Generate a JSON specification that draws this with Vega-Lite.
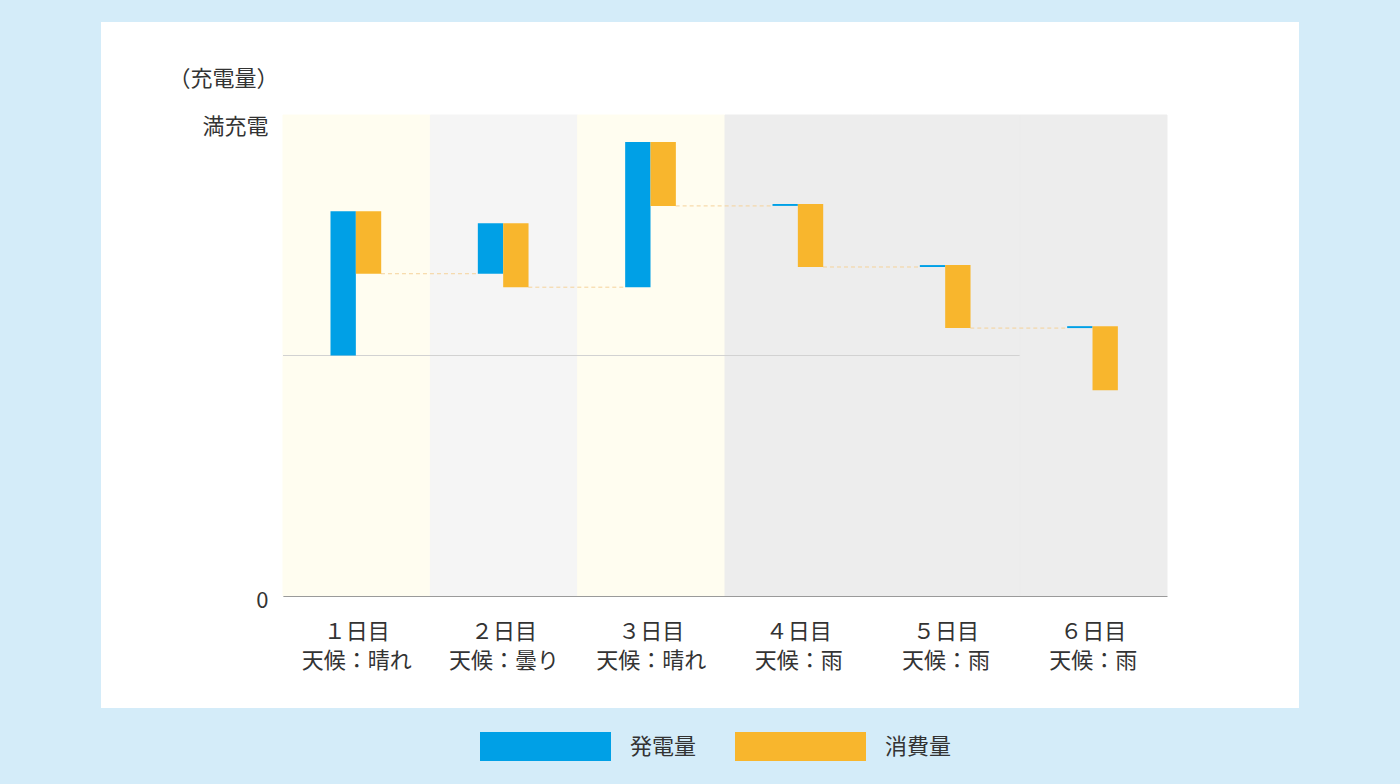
{
  "$schema": "https://vega.github.io/schema/vega-lite/v6.json",
  "width": 1198,
  "height": 686,
  "autosize": {"type": "none"},
  "padding": {"left": 101, "top": 22, "right": 101, "bottom": 76},
  "background": "#d4ecf9",
  "config": {
    "view": {"fill": "#ffffff", "stroke": null},
    "font": "Noto Sans CJK JP"
  },
  "datasets": {
    "days": [
      {"day": "１日目|天候：晴れ", "weather": "晴れ"},
      {"day": "２日目|天候：曇り", "weather": "曇り"},
      {"day": "３日目|天候：晴れ", "weather": "晴れ"},
      {"day": "４日目|天候：雨", "weather": "雨"},
      {"day": "５日目|天候：雨", "weather": "雨"},
      {"day": "６日目|天候：雨", "weather": "雨"}
    ],
    "flows": [
      {"day": "１日目|天候：晴れ", "series": "発電量", "start": 50, "end": 80},
      {"day": "１日目|天候：晴れ", "series": "消費量", "start": 80, "end": 67},
      {"day": "２日目|天候：曇り", "series": "発電量", "start": 67, "end": 77.5},
      {"day": "２日目|天候：曇り", "series": "消費量", "start": 77.5, "end": 64.2},
      {"day": "３日目|天候：晴れ", "series": "発電量", "start": 64.2, "end": 94.4},
      {"day": "３日目|天候：晴れ", "series": "消費量", "start": 94.4, "end": 81.1},
      {"day": "４日目|天候：雨", "series": "発電量", "start": 81.1, "end": 81.5},
      {"day": "４日目|天候：雨", "series": "消費量", "start": 81.5, "end": 68.4},
      {"day": "５日目|天候：雨", "series": "発電量", "start": 68.4, "end": 68.8},
      {"day": "５日目|天候：雨", "series": "消費量", "start": 68.8, "end": 55.7},
      {"day": "６日目|天候：雨", "series": "発電量", "start": 55.7, "end": 56.1},
      {"day": "６日目|天候：雨", "series": "消費量", "start": 56.1, "end": 42.8}
    ],
    "links": [
      {"from": "１日目|天候：晴れ", "to": "２日目|天候：曇り", "level": 67},
      {"from": "２日目|天候：曇り", "to": "３日目|天候：晴れ", "level": 64.2},
      {"from": "３日目|天候：晴れ", "to": "４日目|天候：雨", "level": 81.1},
      {"from": "４日目|天候：雨", "to": "５日目|天候：雨", "level": 68.4},
      {"from": "５日目|天候：雨", "to": "６日目|天候：雨", "level": 55.7}
    ],
    "reference": [
      {"from": "１日目|天候：晴れ", "to": "５日目|天候：雨", "level": 50}
    ]
  },
  "layer": [
    {
      "data": {"name": "days"},
      "mark": {"type": "rect", "strokeWidth": 1},
      "encoding": {
        "x": {
          "field": "day",
          "type": "nominal",
          "sort": null,
          "scale": {
            "domain": ["１日目|天候：晴れ", "２日目|天候：曇り", "３日目|天候：晴れ", "４日目|天候：雨", "５日目|天候：雨", "６日目|天候：雨"],
            "range": [182, 1066],
            "paddingInner": 0,
            "paddingOuter": 0
          },
          "axis": {
            "orient": "bottom",
            "offset": -112,
            "title": null,
            "ticks": false,
            "domainColor": "#9a9a9a",
            "domainWidth": 1,
            "labelAngle": 0,
            "labelFontSize": 22,
            "labelColor": "#333333",
            "labelPadding": 25,
            "labelBaseline": "top",
            "labelLineHeight": 29,
            "labelExpr": "split(datum.value, '|')"
          }
        },
        "y": {
          "datum": 0,
          "type": "quantitative",
          "scale": {"domain": [0, 100], "range": [574, 93], "nice": false, "zero": false},
          "axis": {
            "orient": "left",
            "offset": -182,
            "values": [0, 100],
            "ticks": false,
            "grid": false,
            "domainColor": "#9a9a9a",
            "domainWidth": 1,
            "labelFontSize": 22,
            "labelColor": "#333333",
            "labelPadding": 15,
            "labelBaseline": "middle",
            "labelOffset": {"condition": {"test": "datum.value == 100", "value": 11}, "value": 4},
            "labelExpr": "datum.value == 100 ? '満充電' : '0'",
            "title": "（充電量）",
            "titleAngle": 0,
            "titleX": -60,
            "titleY": 56,
            "titleAlign": "center",
            "titleBaseline": "middle",
            "titleFontSize": 22,
            "titleFontWeight": "normal",
            "titleColor": "#333333"
          }
        },
        "y2": {"datum": 100},
        "fill": {
          "field": "weather",
          "type": "nominal",
          "scale": {"domain": ["晴れ", "曇り", "雨"], "range": ["#fffdf0", "#f5f5f5", "#ededed"]},
          "legend": null
        },
        "stroke": {
          "field": "weather",
          "type": "nominal",
          "scale": {"domain": ["晴れ", "曇り", "雨"], "range": ["#fffdf0", "#f5f5f5", "#ededed"]},
          "legend": null
        }
      }
    },
    {
      "data": {"name": "reference"},
      "mark": {"type": "rule", "color": "#d2d2d2", "strokeWidth": 1},
      "encoding": {
        "x": {"field": "from", "type": "nominal", "bandPosition": 0},
        "x2": {"field": "to", "bandPosition": 1},
        "y": {"field": "level", "type": "quantitative"}
      }
    },
    {
      "data": {"name": "links"},
      "mark": {"type": "rule", "color": "#f5d29a", "strokeWidth": 1, "strokeDash": [4, 3]},
      "encoding": {
        "x": {"field": "from", "type": "nominal", "bandPosition": 0.665},
        "x2": {"field": "to", "bandPosition": 0.32},
        "y": {"field": "level", "type": "quantitative"}
      }
    },
    {
      "data": {"name": "flows"},
      "mark": {"type": "bar"},
      "encoding": {
        "x": {"field": "day", "type": "nominal"},
        "xOffset": {
          "field": "series",
          "type": "nominal",
          "scale": {"domain": ["発電量", "消費量"], "range": [47.5, 98.2], "paddingInner": 0, "paddingOuter": 0}
        },
        "y": {"field": "start", "type": "quantitative"},
        "y2": {"field": "end"},
        "color": {
          "field": "series",
          "type": "nominal",
          "scale": {"domain": ["発電量", "消費量"], "range": ["#00a0e6", "#f8b62d"]},
          "legend": {
            "orient": "none",
            "legendX": 379,
            "legendY": 659,
            "direction": "horizontal",
            "title": null,
            "padding": 0,
            "symbolType": "M-1,-0.221H1V0.221H-1Z",
            "symbolSize": 17161,
            "symbolStrokeWidth": 0,
            "symbolOpacity": 1,
            "labelFontSize": 22,
            "labelColor": "#333333",
            "labelOffset": 19,
            "columnPadding": 38
          }
        }
      }
    }
  ]
}
